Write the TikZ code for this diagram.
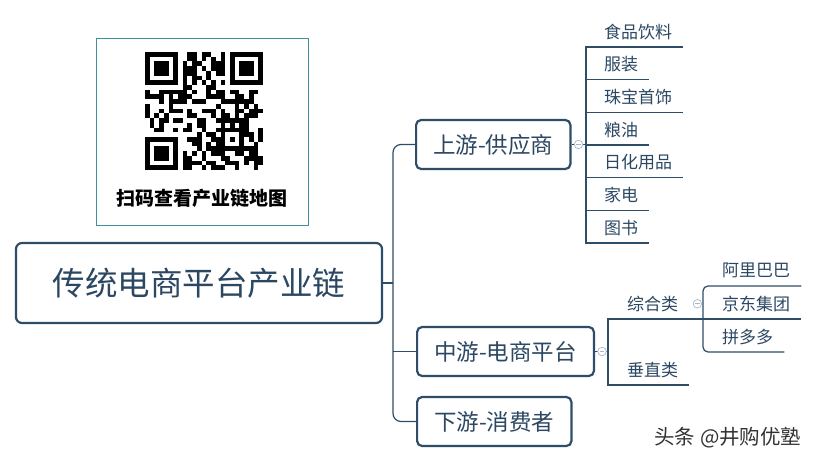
\documentclass[tikz,border=0pt]{standalone}
\usepackage{fontspec}
\setmainfont{Noto Sans CJK SC}
\usetikzlibrary{positioning}

\definecolor{linecol}{HTML}{2E4D69}
\definecolor{txtcol}{HTML}{2B4762}
\definecolor{qrcol}{HTML}{3F909E}
\definecolor{foldcol}{HTML}{A7B8CD}

\tikzstyle{rootbox} = [rectangle, draw=linecol, line width=2.2pt, rounded corners=6pt, fill=white, text=txtcol, minimum width=366pt, minimum height=80pt, font=\fontsize{32.5}{36}\selectfont]
\tikzstyle{block} = [rectangle, draw=linecol, line width=2.2pt, rounded corners=5pt, fill=white, text=txtcol, inner xsep=17pt, minimum height=49pt, anchor=west, font=\fontsize{22.5}{26}\selectfont]
\tikzstyle{leaf} = [rectangle, anchor=south west, inner xsep=11pt, inner ysep=0pt, minimum height=30pt, text=txtcol, font=\fontsize{17}{20}\selectfont]
\tikzstyle{conn} = [draw=linecol, line width=1.2pt]
\tikzstyle{fold} = [circle, draw=foldcol, fill=white, line width=0.7pt, inner sep=0pt, minimum size=8.5pt, path picture={\draw[foldcol, line width=0.7pt] ([xshift=-2.2pt]path picture bounding box.center) -- ([xshift=2.2pt]path picture bounding box.center);}]
\tikzstyle{qrbox} = [rectangle, draw=qrcol, line width=1pt, minimum width=212pt, minimum height=187pt]

\begin{document}
\begin{tikzpicture}[x=1pt, y=-1pt]

\useasboundingbox (0,0) rectangle (817,463);

\node [qrbox] (qr) at (202,131.5) {};

\begin{scope}[shift={(145,52)}, x=4.72pt, y=-4.72pt]
\pgfmathsetseed{2718}
\foreach \a/\b in {0/0,18/0,0/18} {
  \fill (\a,\b) rectangle ++(7,7);
  \fill[white] (\a+1,\b+1) rectangle ++(5,5);
  \fill (\a+2,\b+2) rectangle ++(3,3);
}
\fill (16,16) rectangle ++(5,5);
\fill[white] (17,17) rectangle ++(3,3);
\fill (18,18) rectangle ++(1,1);
\foreach \k in {8,10,...,16} {
  \fill (\k,6) rectangle ++(1,1);
  \fill (6,\k) rectangle ++(1,1);
}
\foreach \i in {0,...,24} {
  \foreach \j in {0,...,24} {
    \pgfmathtruncatemacro{\skipcell}{(\i<8 && \j<8) || (\i>16 && \j<8) || (\i<8 && \j>16) || (\i==6) || (\j==6) || (\i>15 && \i<21 && \j>15 && \j<21)}
    \pgfmathrandominteger{\cellon}{0}{1}
    \ifnum\skipcell=0 \ifnum\cellon=1 \fill (\i,\j) rectangle ++(1,1); \fi\fi
  }
}
\end{scope}

\node [font=\bfseries\fontsize{19}{22}\selectfont] (qrtext) at (202,198) {扫码查看产业链地图};

\node [rootbox] (root) at (199,283) {传统电商平台产业链};

\node [block] (up) at (415,144.5) {上游-供应商};

\node [block] (mid) at (416,351.5) {中游-电商平台};

\node [block] (down) at (416,421.5) {下游-消费者};

\coordinate (trunk) at (393,283);

\draw [conn] (root.east) -- (trunk);

\draw [conn, rounded corners=8pt] (up.west) -- (up.west -| trunk) -- (down.west -| trunk) -- (down.west);

\draw [conn] (mid.west -| trunk) -- (mid.west);

\coordinate (upspine) at (586,144.5);

\node [leaf] (u1) at (593,47) {食品饮料};

\node [leaf] (u2) at (593,79.7) {服装};

\node [leaf] (u3) at (593,112.3) {珠宝首饰};

\node [leaf] (u4) at (593,145) {粮油};

\node [leaf] (u5) at (593,177.7) {日化用品};

\node [leaf] (u6) at (593,210.3) {家电};

\node [leaf] (u7) at (593,243) {图书};

\draw [conn] (u1.south east) -- (u1.south west -| upspine) -- (u7.south west -| upspine) -- (u7.south east);

\draw [conn] (u2.south west -| upspine) -- (u2.south east);

\draw [conn] (u3.south west -| upspine) -- (u3.south east);

\draw [conn] (u4.south west -| upspine) -- (u4.south east);

\draw [conn] (u5.south west -| upspine) -- (u5.south east);

\draw [conn] (u6.south west -| upspine) -- (u6.south east);

\draw [conn] (up.east) -- (upspine);

\node [fold] (upfold) at ([xshift=7pt]up.east) {};

\coordinate (midspine) at (608,351.5);

\node [leaf] (zh) at (616,319) {综合类};

\node [leaf] (cz) at (616,385) {垂直类};

\draw [conn] (zh.south east) -- (zh.south west -| midspine) -- (cz.south west -| midspine) -- (cz.south east);

\draw [conn] (mid.east) -- (midspine);

\node [fold] (midfold) at ([xshift=7pt]mid.east) {};

\coordinate (zhspine) at (703,319);

\node [leaf] (ali) at (711,286) {阿里巴巴};

\node [leaf] (jd) at (711,319) {京东集团};

\node [leaf] (pdd) at (711,352) {拼多多};

\draw [conn] (zh.south east) -- (zhspine);

\draw [conn, rounded corners=5pt] (ali.south east) -- (ali.south west -| zhspine) -- (pdd.south west -| zhspine) -- (pdd.south east);

\draw [conn] (jd.south west -| zhspine) -- (jd.south east);

\node [fold] (zhfold) at ([xshift=8pt]zh.east) {};

\node [anchor=east, text=black!80, font=\fontsize{20.5}{24}\selectfont] (credit) at (805,438) {头条 @井购优塾};

\end{tikzpicture}
\end{document}
